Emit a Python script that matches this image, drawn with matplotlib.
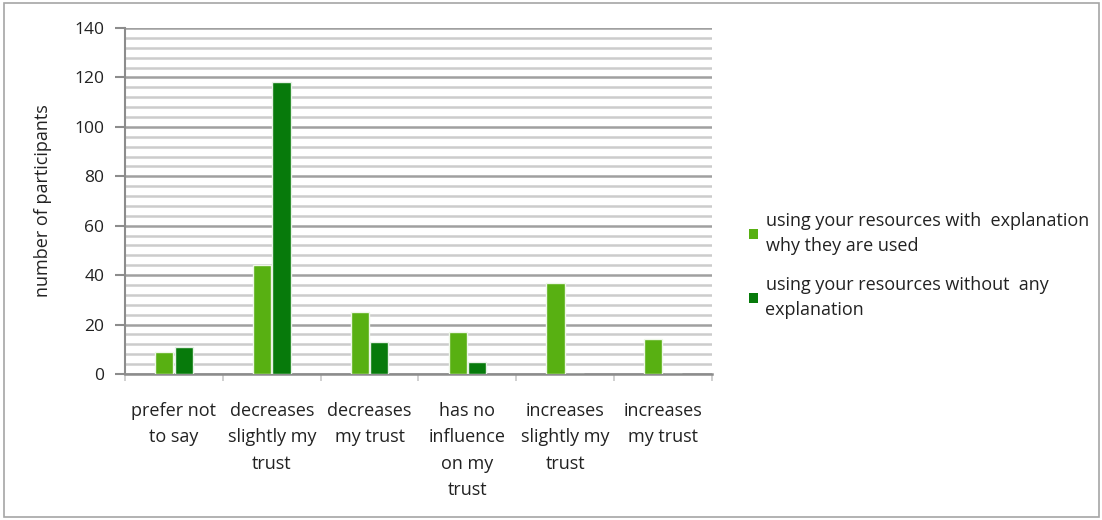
import matplotlib.pyplot as plt
from matplotlib.patches import Rectangle
import numpy as np

categories = ["prefer not\nto say", "decreases\nslightly my\ntrust", "decreases\nmy trust",
              "has no\ninfluence\non my\ntrust", "increases\nslightly my\ntrust", "increases\nmy trust"]
with_expl = [9, 44, 25, 17, 37, 14]
without_expl = [11, 118, 13, 5, 0, 0]
series_names = ["using your resources with  explanation\nwhy they are used",
                "using your resources without  any\nexplanation"]
yticks = [0, 20, 40, 60, 80, 100, 120, 140]

plt.rcParams['font.family'] = ['Open Sans', 'DejaVu Sans']

fig = plt.figure(figsize=(11.02, 5.2), dpi=100)
# outer frame
fig.patches.append(Rectangle((0.004, 0.006), 0.993, 0.988, transform=fig.transFigure,
                             fill=False, edgecolor='#a6a6a6', linewidth=1.2))

ax = fig.add_axes([125 / 1102, 1 - 374 / 520, 587 / 1102, 346 / 520])

x = np.arange(len(categories))
w = 0.185
b1 = ax.bar(x - 0.1, with_expl, w, color='#58b012', edgecolor='#eef7e8', linewidth=1.0,
            label=series_names[0], zorder=3)
b2 = ax.bar(x + 0.1, without_expl, w, color='#077a0b', edgecolor='#e6f1e6', linewidth=1.0,
            label=series_names[1], zorder=3)

ax.set_xlim(-0.5, len(categories) - 0.5)
ax.set_ylim(0, 140)
ax.set_yticks(yticks)
ax.set_yticks(np.arange(0, 141, 4), minor=True)
ax.yaxis.grid(True, which='major', color='#a0a0a0', linewidth=1.8, zorder=0)
ax.yaxis.grid(True, which='minor', color='#cccccc', linewidth=1.8, zorder=0)
ax.tick_params(axis='y', which='major', length=7, color='#8c8c8c', width=1.5,
               labelsize=12.5, labelcolor='#222222', pad=8)
ax.tick_params(axis='y', which='minor', length=0)

# category labels between boundary ticks
ax.set_xticks(x)
ax.set_xticklabels(categories, fontsize=13, color='#222222', linespacing=1.6, va='top')
ax.tick_params(axis='x', which='major', length=0, pad=20)
ax.set_xticks(np.arange(-0.5, len(categories)), minor=True)
ax.tick_params(axis='x', which='minor', length=5, color='#c8c8c8', width=1.2)

for s in ['top', 'right']:
    ax.spines[s].set_visible(False)
ax.spines['left'].set_color('#8c8c8c')
ax.spines['left'].set_linewidth(1.5)
ax.spines['bottom'].set_color('#8c8c8c')
ax.spines['bottom'].set_linewidth(1.8)

ax.set_ylabel("number of participants", fontsize=13, color='#222222')
ax.yaxis.set_label_coords(-0.125, 0.5)

leg = fig.legend(handles=[b1, b2], loc='upper left', bbox_to_anchor=(733 / 1102, 1 - 196 / 520),
                 frameon=False, fontsize=13, handlelength=0.5, handleheight=0.5,
                 handletextpad=0.4, labelspacing=1.15)
for t in leg.get_texts():
    t.set_linespacing(1.5)
    t.set_color('#222222')
for h in leg.legend_handles:
    h.set_edgecolor('none')

fig.savefig("out.png", dpi=100)
